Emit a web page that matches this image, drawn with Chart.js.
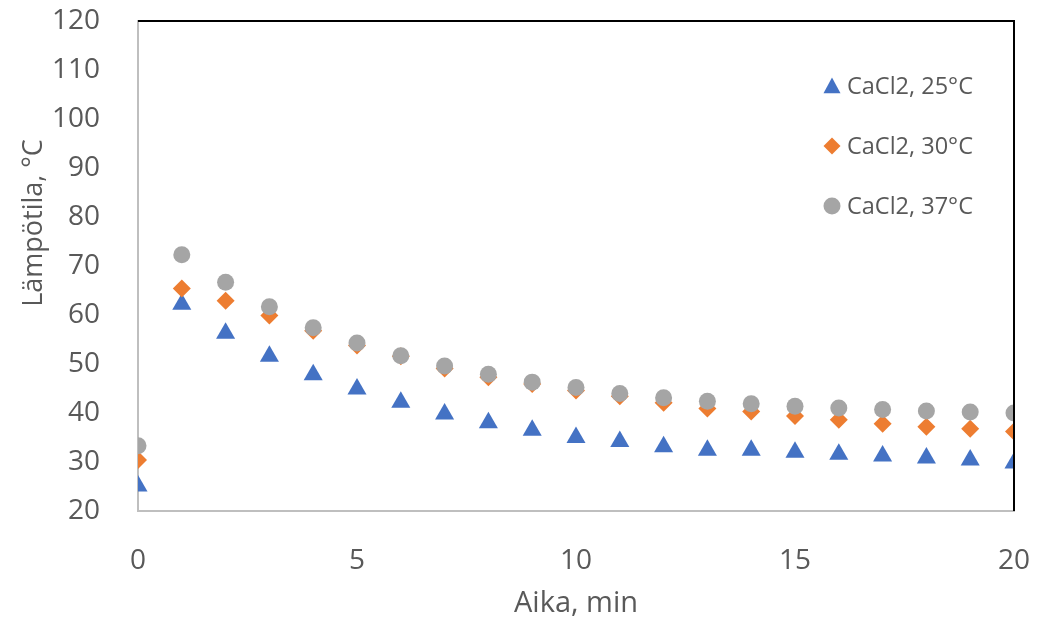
<!DOCTYPE html>
<html>
<head>
<meta charset="utf-8">
<script src="https://cdn.jsdelivr.net/npm/chart.js@4/dist/chart.umd.min.js"></script>
<style>
  html, body { margin: 0; padding: 0; background: #ffffff; }
  #wrap { width: 1042px; height: 626px; }
</style>
</head>
<body>
<div id="wrap"><canvas id="chart" width="1042" height="626"></canvas></div>
<script>
// ====================================
// DATA
// ====================================

const minutes = [0, 1, 2, 3, 4, 5, 6, 7, 8, 9, 10, 11, 12, 13, 14, 15, 16, 17, 18, 19, 20];

const temp25 = [25.1, 62.2, 56.3, 51.6, 47.8, 44.9, 42.2, 39.8, 38.0, 36.5, 35.0, 34.2, 33.1, 32.4, 32.4, 32.0, 31.6, 31.2, 30.8, 30.4, 29.8];
const temp30 = [30.4, 65.4, 62.9, 59.9, 56.8, 53.8, 51.6, 49.1, 47.3, 45.9, 44.6, 43.4, 42.1, 40.9, 40.3, 39.4, 38.6, 37.8, 37.2, 36.8, 36.2];
const temp37 = [33.3, 72.3, 66.7, 61.7, 57.4, 54.3, 51.7, 49.6, 47.9, 46.3, 45.2, 44.0, 43.1, 42.4, 41.9, 41.4, 41.0, 40.7, 40.4, 40.2, 40.0];

const seriesLabels = ['CaCl2, 25°C', 'CaCl2, 30°C', 'CaCl2, 37°C'];

const xTicks = [0, 5, 10, 15, 20];
const yTicks = [20, 30, 40, 50, 60, 70, 80, 90, 100, 110, 120];

const textColor = '#595959';
const fontName = '"Open Sans", sans-serif';

function toPoints(values){
    return values.map((v, i) => ({ x: minutes[i], y: v }));
}

// ====================================
// FRAME + LEGEND + Y TITLE
// ====================================

const framePlugin = {
    id: 'frame',
    afterDatasetsDraw(chart){
        const ctx = chart.ctx;
        const a = chart.chartArea;
        ctx.save();
        ctx.strokeStyle = '#000000';
        ctx.lineWidth = 2;
        ctx.beginPath();
        ctx.moveTo(a.left, a.top);
        ctx.lineTo(a.right, a.top);
        ctx.lineTo(a.right, a.bottom);
        ctx.stroke();
        ctx.restore();
    }
};

function drawMarker(ctx, style, x, y, r, color){
    ctx.fillStyle = color;
    ctx.beginPath();
    if(style === 'triangle'){
        ctx.moveTo(x, y - r);
        ctx.lineTo(x + r, y + r * 0.85);
        ctx.lineTo(x - r, y + r * 0.85);
        ctx.closePath();
    }else if(style === 'rectRot'){
        ctx.moveTo(x, y - r);
        ctx.lineTo(x + r, y);
        ctx.lineTo(x, y + r);
        ctx.lineTo(x - r, y);
        ctx.closePath();
    }else{
        ctx.arc(x, y, r, 0, Math.PI * 2);
    }
    ctx.fill();
}

const legendPlugin = {
    id: 'sideLegend',
    afterDraw(chart){
        const ctx = chart.ctx;
        ctx.save();
        ctx.font = '23.5px ' + fontName;
        ctx.textBaseline = 'middle';
        ctx.textAlign = 'left';
        chart.data.datasets.forEach((ds, i) => {
            const y = 86 + i * 60;
            drawMarker(ctx, ds.pointStyle, 832, y, 8.5, ds.backgroundColor);
            ctx.fillStyle = textColor;
            ctx.fillText(ds.label, 847, y + 1);
        });

        // y axis title
        ctx.translate(34, 223);
        ctx.rotate(-Math.PI / 2);
        ctx.textAlign = 'center';
        ctx.font = '27px ' + fontName;
        ctx.fillText('Lämpötila, °C', 0, 0);
        ctx.restore();
    }
};

// ====================================
// CHART
// ====================================

const ctxTemp = document.getElementById('chart').getContext('2d');
const tempChart = new Chart(ctxTemp, {
    type: 'scatter',
    data: {
        datasets: [{
            label: seriesLabels[0],
            data: toPoints(temp25),
            pointStyle: 'triangle',
            pointRadius: 11,
            backgroundColor: '#4472C4',
            borderColor: '#4472C4',
            borderWidth: 0,
            order: 3
        },{
            label: seriesLabels[1],
            data: toPoints(temp30),
            pointStyle: 'rectRot',
            pointRadius: 9,
            backgroundColor: '#ED7D31',
            borderColor: '#ED7D31',
            borderWidth: 0,
            order: 2
        },{
            label: seriesLabels[2],
            data: toPoints(temp37),
            pointStyle: 'circle',
            pointRadius: 8.5,
            backgroundColor: '#A5A5A5',
            borderColor: '#A5A5A5',
            borderWidth: 0,
            order: 1
        }]
    },
    options: {
        responsive: false,
        animation: false,
        layout: {
            padding: { top: 21, right: 28, bottom: 0, left: 0 }
        },
        plugins: {
            legend: { display: false },
            tooltip: { enabled: false }
        },
        scales: {
            x: {
                type: 'linear',
                min: 0,
                max: 20,
                afterFit(scale){
                    scale.height = 115;
                    scale.paddingLeft = 0;
                    scale.paddingRight = 0;
                },
                afterBuildTicks(scale){ scale.ticks = xTicks.map(v => ({ value: v })); },
                grid: { display: false },
                border: { display: true, color: '#BFBFBF', width: 2 },
                ticks: {
                    color: textColor,
                    font: { family: fontName, size: 28 },
                    padding: 25,
                    maxRotation: 0
                },
                title: {
                    display: true,
                    text: 'Aika, min',
                    color: textColor,
                    font: { family: fontName, size: 29 },
                    padding: { top: 0, bottom: 5 }
                }
            },
            y: {
                type: 'linear',
                min: 20,
                max: 120,
                afterFit(scale){
                    scale.width = 138;
                    scale.paddingTop = 0;
                    scale.paddingBottom = 0;
                },
                afterBuildTicks(scale){ scale.ticks = yTicks.map(v => ({ value: v })); },
                grid: { display: false },
                border: { display: true, color: '#BFBFBF', width: 2 },
                ticks: {
                    color: textColor,
                    font: { family: fontName, size: 28 },
                    padding: 30
                }
            }
        }
    },
    plugins: [framePlugin, legendPlugin]
});
</script>
</body>
</html>
